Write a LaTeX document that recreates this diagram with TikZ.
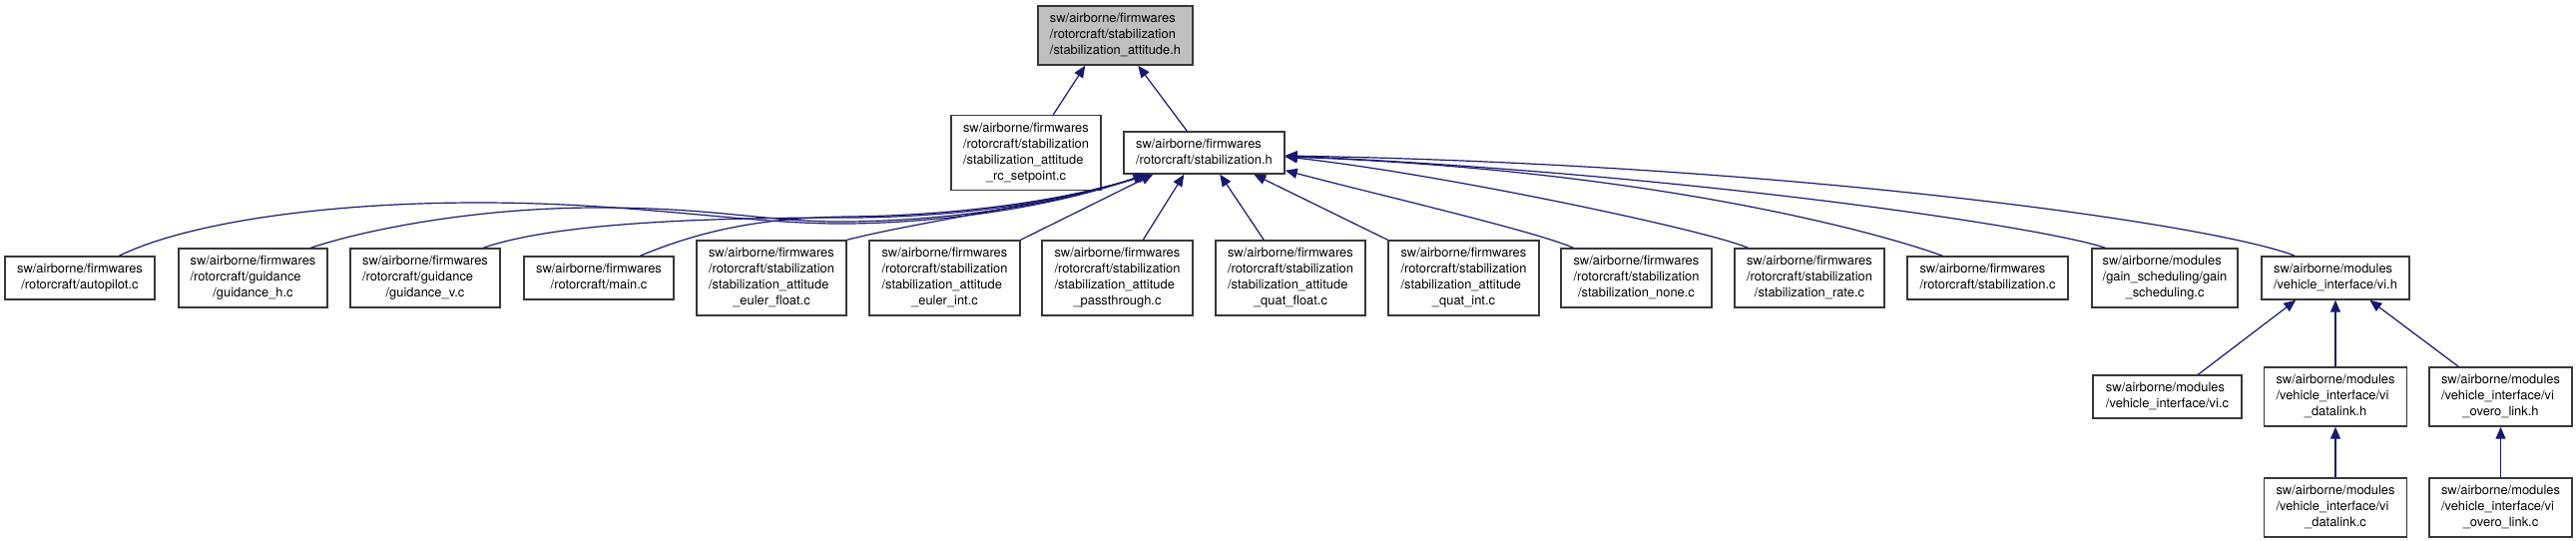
\documentclass[tikz,border=0pt]{standalone}
\usepackage{fontspec}
\setmainfont{TeX Gyre Heros}
\usetikzlibrary{arrows.meta,calc}
\definecolor{edgec}{HTML}{191970}
\definecolor{boxc}{HTML}{383838}
\definecolor{topfill}{HTML}{BFBFBF}
\newcommand\lb[2]{\begin{tabular}{@{}l@{}}#1\\\multicolumn{1}{@{}c@{}}{#2}\end{tabular}}
\begin{document}
\begin{tikzpicture}[x=1pt,y=-1pt,
  box/.style={draw=boxc, line width=1.4pt, fill=white, inner sep=0pt, align=center,
    font=\fontsize{12.9}{16}\selectfont},
  edge/.style={draw=edgec, line width=1.2pt, -{Triangle[length=12pt,width=10pt]}}]
\useasboundingbox (0,0) rectangle (2581,541);
% top
\node[box, fill=topfill, minimum width=155pt, minimum height=59pt] (top) at (1117.5,35.5)
  {\lb{sw/airborne/firmwares\\/rotorcraft/stabilization}{/stabilization\_attitude.h}};
\node[box, minimum width=150pt, minimum height=75pt] (rc) at (1028,153)
  {\lb{sw/airborne/firmwares\\/rotorcraft/stabilization\\/stabilization\_attitude}{\_rc\_setpoint.c}};
\node[box, minimum width=161pt, minimum height=42pt] (sh) at (1206.5,153)
  {\lb{sw/airborne/firmwares}{/rotorcraft/stabilization.h}};
% row 2
\node[box, minimum width=150pt, minimum height=43pt] (ap) at (80,278.5)
  {\lb{sw/airborne/firmwares}{/rotorcraft/autopilot.c}};
\node[box, minimum width=149pt, minimum height=59pt] (gh) at (253.5,278.5)
  {\lb{sw/airborne/firmwares\\/rotorcraft/guidance}{/guidance\_h.c}};
\node[box, minimum width=150pt, minimum height=59pt] (gv) at (426,278.5)
  {\lb{sw/airborne/firmwares\\/rotorcraft/guidance}{/guidance\_v.c}};
\node[box, minimum width=150pt, minimum height=43pt] (main) at (600,278.5)
  {\lb{sw/airborne/firmwares}{/rotorcraft/main.c}};
\node[box, minimum width=150pt, minimum height=75pt] (ef) at (773,278.5)
  {\lb{sw/airborne/firmwares\\/rotorcraft/stabilization\\/stabilization\_attitude}{\_euler\_float.c}};
\node[box, minimum width=151pt, minimum height=75pt] (ei) at (946.5,278.5)
  {\lb{sw/airborne/firmwares\\/rotorcraft/stabilization\\/stabilization\_attitude}{\_euler\_int.c}};
\node[box, minimum width=151pt, minimum height=75pt] (pt) at (1119.5,278.5)
  {\lb{sw/airborne/firmwares\\/rotorcraft/stabilization\\/stabilization\_attitude}{\_passthrough.c}};
\node[box, minimum width=150pt, minimum height=75pt] (qf) at (1293,278.5)
  {\lb{sw/airborne/firmwares\\/rotorcraft/stabilization\\/stabilization\_attitude}{\_quat\_float.c}};
\node[box, minimum width=151pt, minimum height=75pt] (qi) at (1466.5,278.5)
  {\lb{sw/airborne/firmwares\\/rotorcraft/stabilization\\/stabilization\_attitude}{\_quat\_int.c}};
\node[box, minimum width=151pt, minimum height=59pt] (none) at (1639.5,278.5)
  {\lb{sw/airborne/firmwares\\/rotorcraft/stabilization}{/stabilization\_none.c}};
\node[box, minimum width=150pt, minimum height=59pt] (rate) at (1813,278.5)
  {\lb{sw/airborne/firmwares\\/rotorcraft/stabilization}{/stabilization\_rate.c}};
\node[box, minimum width=161pt, minimum height=43pt] (sc) at (1991.5,278.5)
  {\lb{sw/airborne/firmwares}{/rotorcraft/stabilization.c}};
\node[box, minimum width=146pt, minimum height=59pt] (gain) at (2169,278.5)
  {\lb{sw/airborne/modules\\/gain\_scheduling/gain}{\_scheduling.c}};
\node[box, minimum width=148pt, minimum height=43pt] (vih) at (2340,278.5)
  {\lb{sw/airborne/modules}{/vehicle\_interface/vi.h}};
% row 3
\node[box, minimum width=149pt, minimum height=43pt] (vic) at (2171.5,397.5)
  {\lb{sw/airborne/modules}{/vehicle\_interface/vi.c}};
\node[box, minimum width=143pt, minimum height=59pt] (vdh) at (2340,397.5)
  {\lb{sw/airborne/modules\\/vehicle\_interface/vi}{\_datalink.h}};
\node[box, minimum width=143pt, minimum height=59pt] (voh) at (2505.5,397.5)
  {\lb{sw/airborne/modules\\/vehicle\_interface/vi}{\_overo\_link.h}};
% row 4
\node[box, minimum width=143pt, minimum height=59pt] (vdc) at (2340,508.5)
  {\lb{sw/airborne/modules\\/vehicle\_interface/vi}{\_datalink.c}};
\node[box, minimum width=143pt, minimum height=59pt] (voc) at (2505.5,508.5)
  {\lb{sw/airborne/modules\\/vehicle\_interface/vi}{\_overo\_link.c}};
% edges to top
\draw[edge] ($(rc.north west)+(103,0)$) -- ($(top.south west)+(48,0)$);
\draw[edge] ($(sh.north west)+(64,0)$) -- ($(top.south west)+(101,0)$);
% left curves to sh
\draw[edge] ($(ap.north west)+(115,0)$) .. controls (190,222) and (330,203) .. (480,203)
  .. controls (640,203) and (750,225) .. (850,224)
  .. controls (950,223) and (1060,206) .. ($(sh.south west)+(22,0)$);
\draw[edge] ($(gh.north west)+(133,0)$) .. controls (360,232) and (470,208) .. (600,208)
  .. controls (720,208) and (770,223) .. (850,222)
  .. controls (950,221) and (1060,205) .. ($(sh.south west)+(23,0)$);
\draw[edge] ($(gv.north west)+(134,0)$) .. controls (560,222) and (720,218) .. (850,218)
  .. controls (950,218) and (1060,204) .. ($(sh.south west)+(24,0)$);
\draw[edge] ($(main.north west)+(117,0)$) .. controls (700,232) and (760,218) .. (850,217)
  .. controls (950,216) and (1060,203) .. ($(sh.south west)+(25,0)$);
\draw[edge] (ef.north east) .. controls (920,222) and (1050,205) .. ($(sh.south west)+(27,0)$);
\draw[edge] (ei.north east) -- ($(sh.south west)+(30,0)$);
% middle
\draw[edge] ($(pt.north west)+(102,0)$) -- ($(sh.south west)+(61,0)$);
\draw[edge] ($(qf.north west)+(49,0)$) -- ($(sh.south west)+(97,0)$);
\draw[edge] (qi.north west) -- ($(sh.south west)+(131,0)$);
% right curves
\draw[edge] ($(none.north west)+(13,0)$) .. controls (1540,232) and (1380,195) .. ($(sh.south east)+(0,-4)$);
\draw[edge] ($(rate.north west)+(14,0)$) .. controls (1715,232) and (1450,175) .. ($(sh.east)+(0,4)$);
\draw[edge] ($(sc.north west)+(36,0)$) .. controls (1880,232) and (1650,170) .. ($(sh.east)+(0,4)$);
\draw[edge] ($(gain.north west)+(14,0)$) .. controls (2050,228) and (1700,175) .. ($(sh.east)+(0,3)$);
\draw[edge] ($(vih.north west)+(34,0)$) .. controls (2220,225) and (1800,165) .. ($(sh.east)+(0,3)$);
% vehicle interface
\draw[edge] ($(vic.north west)+(106,0)$) -- ($(vih.south west)+(35,0)$);
\draw[edge] (vdh.north) -- (vih.south);
\draw[edge] ($(voh.north west)+(30,0)$) -- ($(vih.south west)+(109,0)$);
\draw[edge] (vdc.north) -- (vdh.south);
\draw[edge] (voc.north) -- (voh.south);
\end{tikzpicture}
\end{document}
